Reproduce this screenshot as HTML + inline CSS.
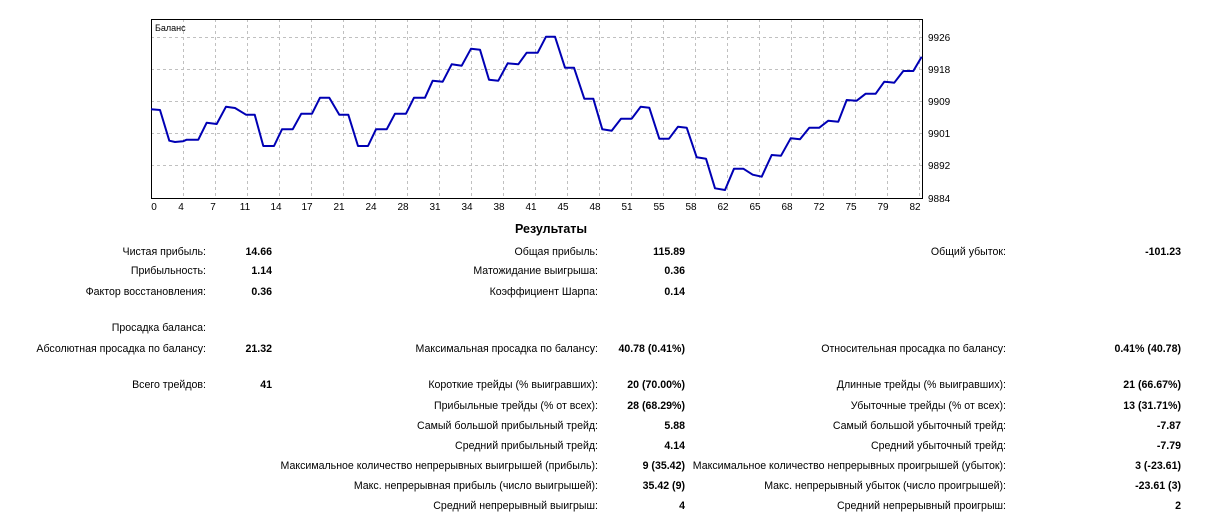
<!DOCTYPE html>
<html><head><meta charset="utf-8"><style>
body{margin:0;width:1212px;height:525px;background:#fff;position:relative;overflow:hidden;font-family:"Liberation Sans",Arial,sans-serif;font-size:10.6px;color:#000}
.t{position:absolute;white-space:nowrap;line-height:13px;text-align:right}
.b{font-weight:bold}
</style></head><body>
<svg width="1212" height="215" style="position:absolute;left:0;top:0" font-family="Liberation Sans, Arial, sans-serif" font-size="10">
<g stroke="#c0c0c0" stroke-dasharray="3,3" stroke-width="1">
<line x1="151" y1="37.5" x2="922" y2="37.5"/><line x1="151" y1="69.5" x2="922" y2="69.5"/><line x1="151" y1="101.5" x2="922" y2="101.5"/><line x1="151" y1="133.5" x2="922" y2="133.5"/><line x1="151" y1="165.5" x2="922" y2="165.5"/>
<line x1="183.5" y1="19" x2="183.5" y2="198"/><line x1="215.5" y1="19" x2="215.5" y2="198"/><line x1="247.5" y1="19" x2="247.5" y2="198"/><line x1="279.5" y1="19" x2="279.5" y2="198"/><line x1="311.5" y1="19" x2="311.5" y2="198"/><line x1="343.5" y1="19" x2="343.5" y2="198"/><line x1="375.5" y1="19" x2="375.5" y2="198"/><line x1="407.5" y1="19" x2="407.5" y2="198"/><line x1="439.5" y1="19" x2="439.5" y2="198"/><line x1="471.5" y1="19" x2="471.5" y2="198"/><line x1="503.5" y1="19" x2="503.5" y2="198"/><line x1="535.5" y1="19" x2="535.5" y2="198"/><line x1="567.5" y1="19" x2="567.5" y2="198"/><line x1="599.5" y1="19" x2="599.5" y2="198"/><line x1="631.5" y1="19" x2="631.5" y2="198"/><line x1="663.5" y1="19" x2="663.5" y2="198"/><line x1="695.5" y1="19" x2="695.5" y2="198"/><line x1="727.5" y1="19" x2="727.5" y2="198"/><line x1="759.5" y1="19" x2="759.5" y2="198"/><line x1="791.5" y1="19" x2="791.5" y2="198"/><line x1="823.5" y1="19" x2="823.5" y2="198"/><line x1="855.5" y1="19" x2="855.5" y2="198"/><line x1="887.5" y1="19" x2="887.5" y2="198"/><line x1="919.5" y1="19" x2="919.5" y2="198"/>
</g>
<rect x="151.5" y="19.5" width="771" height="179" fill="none" stroke="#000" stroke-width="1"/>
<text x="155" y="31" font-size="9">Баланс</text>
<polyline fill="none" stroke="#0000b4" stroke-width="2" stroke-linejoin="round" points="151,109.3 160,110 169.3,140.7 175,142 183,141.3 186.7,139.7 198.3,139.7 206.7,122.7 216.7,124 226,106.7 235,108 246,114.7 254.7,114.7 263.3,146 274,146 282,129.3 292.7,129.3 301.3,113.7 312,113.7 320,97.7 329.3,97.7 339.3,114.7 348.3,114.7 358,146 368,146 376,129.3 386.7,129.3 395,113.7 406,113.7 414,97.7 425,97.7 432.7,80.7 442.7,81.7 451.7,64.3 461.7,65.7 471,48.7 480,49.7 489,79.7 498.3,80.7 507.7,63.3 518.3,64.3 526.7,52.7 537.7,52.7 546,36.7 555,36.7 565,67.7 574,67.7 584.3,98.7 593.3,98.7 602.3,129.3 611.7,130.7 621,118.7 631.7,118.7 640.7,106.7 649.3,107.7 659.3,138.7 669,138.7 678,126.7 686.7,127.7 696.7,157.3 706,158.7 715,188.3 725,190 734,168.7 743.3,168.7 752.7,174.7 761.7,176.7 771.7,155 781,155.7 790.7,138.3 800,139.3 809.3,127.7 819.3,127.7 828.3,120.7 838.3,121.7 846.7,100 856.7,100.7 865.7,93.7 875.7,93.7 884.3,81.7 894.3,82.7 903.3,71 913.3,71 921.7,56.7"/>
<g text-anchor="start">
<text x="928" y="41">9926</text><text x="928" y="73">9918</text><text x="928" y="105">9909</text><text x="928" y="137">9901</text><text x="928" y="169">9892</text><text x="928" y="202">9884</text>
</g>
<g text-anchor="middle">
<text x="154" y="210">0</text><text x="181" y="210">4</text><text x="213" y="210">7</text><text x="245" y="210">11</text><text x="276" y="210">14</text><text x="307" y="210">17</text><text x="339" y="210">21</text><text x="371" y="210">24</text><text x="403" y="210">28</text><text x="435" y="210">31</text><text x="467" y="210">34</text><text x="499" y="210">38</text><text x="531" y="210">41</text><text x="563" y="210">45</text><text x="595" y="210">48</text><text x="627" y="210">51</text><text x="659" y="210">55</text><text x="691" y="210">58</text><text x="723" y="210">62</text><text x="755" y="210">65</text><text x="787" y="210">68</text><text x="819" y="210">72</text><text x="851" y="210">75</text><text x="883" y="210">79</text><text x="915" y="210">82</text>
</g>
</svg>
<div class="t b" style="left:515px;top:223px;font-size:12.5px;text-align:left">Результаты</div>

<div class="t" style="right:1006px;top:246px">Чистая прибыль:</div><div class="t b" style="right:940px;top:246px">14.66</div>
<div class="t" style="right:614px;top:246px">Общая прибыль:</div><div class="t b" style="right:527px;top:246px">115.89</div>
<div class="t" style="right:206px;top:246px">Общий убыток:</div><div class="t b" style="right:31px;top:246px">-101.23</div>

<div class="t" style="right:1006px;top:265px">Прибыльность:</div><div class="t b" style="right:940px;top:265px">1.14</div>
<div class="t" style="right:614px;top:265px">Матожидание выигрыша:</div><div class="t b" style="right:527px;top:265px">0.36</div>

<div class="t" style="right:1006px;top:286px">Фактор восстановления:</div><div class="t b" style="right:940px;top:286px">0.36</div>
<div class="t" style="right:614px;top:286px">Коэффициент Шарпа:</div><div class="t b" style="right:527px;top:286px">0.14</div>

<div class="t" style="right:1006px;top:322px">Просадка баланса:</div>

<div class="t" style="right:1006px;top:343px">Абсолютная просадка по балансу:</div><div class="t b" style="right:940px;top:343px">21.32</div>
<div class="t" style="right:614px;top:343px">Максимальная просадка по балансу:</div><div class="t b" style="right:527px;top:343px">40.78 (0.41%)</div>
<div class="t" style="right:206px;top:343px">Относительная просадка по балансу:</div><div class="t b" style="right:31px;top:343px">0.41% (40.78)</div>

<div class="t" style="right:1006px;top:379px">Всего трейдов:</div><div class="t b" style="right:940px;top:379px">41</div>
<div class="t" style="right:614px;top:379px">Короткие трейды (% выигравших):</div><div class="t b" style="right:527px;top:379px">20 (70.00%)</div>
<div class="t" style="right:206px;top:379px">Длинные трейды (% выигравших):</div><div class="t b" style="right:31px;top:379px">21 (66.67%)</div>

<div class="t" style="right:614px;top:400px">Прибыльные трейды (% от всех):</div><div class="t b" style="right:527px;top:400px">28 (68.29%)</div>
<div class="t" style="right:206px;top:400px">Убыточные трейды (% от всех):</div><div class="t b" style="right:31px;top:400px">13 (31.71%)</div>

<div class="t" style="right:614px;top:420px">Самый большой прибыльный трейд:</div><div class="t b" style="right:527px;top:420px">5.88</div>
<div class="t" style="right:206px;top:420px">Самый большой убыточный трейд:</div><div class="t b" style="right:31px;top:420px">-7.87</div>

<div class="t" style="right:614px;top:440px">Средний прибыльный трейд:</div><div class="t b" style="right:527px;top:440px">4.14</div>
<div class="t" style="right:206px;top:440px">Средний убыточный трейд:</div><div class="t b" style="right:31px;top:440px">-7.79</div>

<div class="t" style="right:614px;top:460px">Максимальное количество непрерывных выигрышей (прибыль):</div><div class="t b" style="right:527px;top:460px">9 (35.42)</div>
<div class="t" style="right:206px;top:460px">Максимальное количество непрерывных проигрышей (убыток):</div><div class="t b" style="right:31px;top:460px">3 (-23.61)</div>

<div class="t" style="right:614px;top:480px">Макс. непрерывная прибыль (число выигрышей):</div><div class="t b" style="right:527px;top:480px">35.42 (9)</div>
<div class="t" style="right:206px;top:480px">Макс. непрерывный убыток (число проигрышей):</div><div class="t b" style="right:31px;top:480px">-23.61 (3)</div>

<div class="t" style="right:614px;top:500px">Средний непрерывный выигрыш:</div><div class="t b" style="right:527px;top:500px">4</div>
<div class="t" style="right:206px;top:500px">Средний непрерывный проигрыш:</div><div class="t b" style="right:31px;top:500px">2</div>
</body></html>
